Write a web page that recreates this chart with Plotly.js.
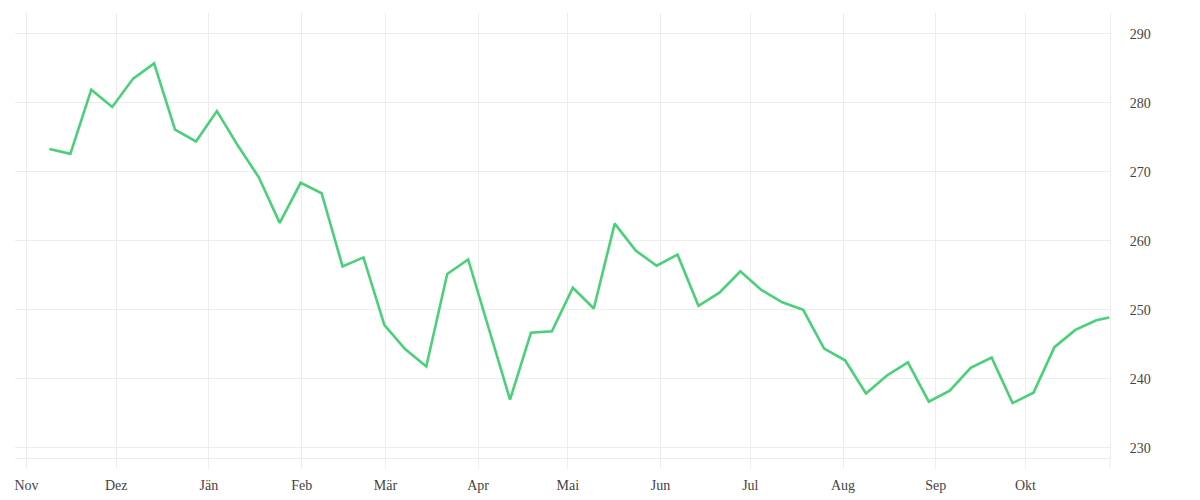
<!DOCTYPE html>
<html>
<head>
<meta charset="utf-8">
<script src="https://cdn.plot.ly/plotly-3.0.1.min.js"></script>
<style>html,body{margin:0;padding:0;background:#fff;}#chart{width:1200px;height:500px;}</style>
</head>
<body>
<div id="chart"></div>
<script>
const startDate = '2022-11-08T16:00:00';
const lastDate = '2023-10-29';
const values = [
  273.3, 272.6, 281.9, 279.4, 283.5, 285.7, 276.1, 274.4, 278.8, 273.8,
  269.2, 262.6, 268.4, 266.9, 256.3, 257.6, 247.8, 244.3, 241.8, 255.2,
  257.3, 247.1, 237.0, 246.7, 246.9, 253.2, 250.2, 262.5, 258.6, 256.4,
  258.0, 250.6, 252.5, 255.6, 252.9, 251.1, 250.0, 244.4, 242.7, 237.9,
  240.5, 242.4, 236.7, 238.3, 241.6, 243.1, 236.5, 238.0, 244.6, 247.1,
  248.5, 248.9
];
const monthTickVals = ['2022-11-01','2022-12-01','2023-01-01','2023-02-01','2023-03-01','2023-04-01',
  '2023-05-01','2023-06-01','2023-07-01','2023-08-01','2023-09-01','2023-10-01'];
const monthTickText = ['Nov','Dez','Jän','Feb','Mär','Apr','Mai','Jun','Jul','Aug','Sep','Okt'];
const yTickVals = [230, 240, 250, 260, 270, 280, 290];

// build dates: weekly from startDate, final point at lastDate
function addDays(s, n) {
  const d = new Date(s + 'Z');
  d.setUTCDate(d.getUTCDate() + n);
  return d.toISOString().slice(0, 19).replace('T', ' ');
}
const dates = values.map((v, i) => i < values.length - 1 ? addDays(startDate, 7 * i) : lastDate);

const gridColor = '#ededed';
const fontSpec = {family: '"Liberation Serif", "DejaVu Serif", serif', size: 14, color: '#444'};

const trace = {
  x: dates, y: values, type: 'scatter', mode: 'lines',
  line: {color: '#4bd07a', width: 2.6},
  hoverinfo: 'x+y'
};

const layout = {
  width: 1200, height: 500,
  margin: {l: 15, r: 90, t: 13, b: 42},
  paper_bgcolor: '#fff', plot_bgcolor: '#fff',
  font: fontSpec,
  showlegend: false,
  xaxis: {
    type: 'date',
    range: ['2022-10-28 04:00', '2023-10-29 06:00'],
    tickmode: 'array', tickvals: monthTickVals, ticktext: monthTickText,
    showgrid: true, gridcolor: gridColor, gridwidth: 1,
    ticks: 'outside', ticklen: 10, tickcolor: gridColor, tickwidth: 1,
    showline: true, linecolor: gridColor, linewidth: 1,
    zeroline: false, tickfont: fontSpec, ticklabelstandoff: 4
  },
  yaxis: {
    side: 'right',
    range: [228.55, 293.0],
    tickmode: 'array', tickvals: yTickVals,
    showgrid: true, gridcolor: gridColor, gridwidth: 1,
    showline: true, linecolor: gridColor, linewidth: 1,
    ticks: '', zeroline: false, tickfont: fontSpec, ticklabelstandoff: 16
  },
  shapes: [{
    type: 'line', xref: 'paper', yref: 'paper', x0: 1, x1: 1, y0: -0.0224, y1: 0,
    line: {color: gridColor, width: 1}
  }]
};

Plotly.newPlot('chart', [trace], layout, {displayModeBar: false, staticPlot: true});
</script>
</body>
</html>
